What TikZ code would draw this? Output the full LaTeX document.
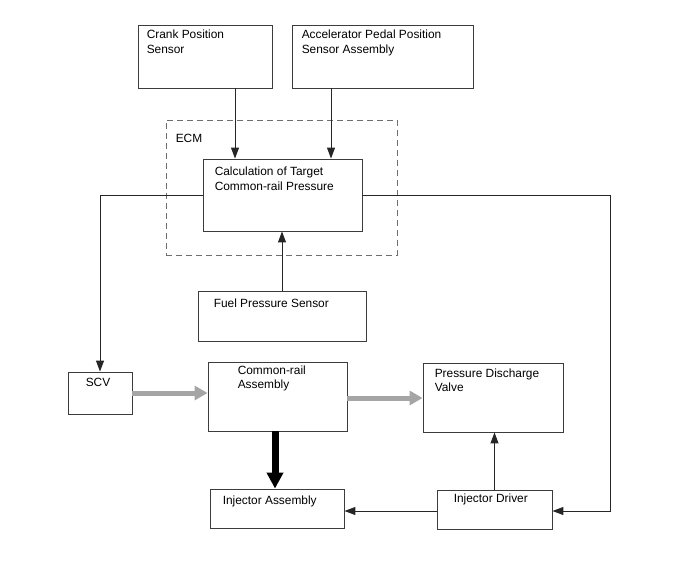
\documentclass[tikz,border=0pt]{standalone}
\usepackage{fontspec}
\setmainfont{Liberation Sans}
\usetikzlibrary{arrows.meta}
\definecolor{boxgray}{RGB}{60,60,60}
\definecolor{flowgray}{RGB}{165,165,165}
\definecolor{dashgray}{RGB}{110,110,110}

\begin{document}
\begin{tikzpicture}[x=1pt, y=-1pt,
  box/.style={draw=boxgray, line width=0.9pt, rectangle, inner sep=0pt},
  txt/.style={anchor=north west, align=left, inner sep=0pt, font=\fontsize{11.9}{14.5}\selectfont},
  sig/.style={draw=black!85, line width=1pt, -{Triangle[length=11pt,width=8pt]}},
  flow/.style={draw=flowgray, line width=5pt, -{Triangle[length=13pt,width=14pt]}},
  drive/.style={draw=black, line width=7pt, -{Triangle[length=16pt,width=16pt]}}]
  \useasboundingbox (0,0) rectangle (688,560);

  % sensors
  \node[box, minimum width=134pt, minimum height=63pt,
    label={[txt, xshift=9pt, yshift=-5.5pt]north west:{Crank Position\\Sensor}}] (crank) at (205,56.5) {};
  \node[box, minimum width=181pt, minimum height=63pt,
    label={[txt, xshift=10pt, yshift=-5.5pt]north west:{Accelerator Pedal Position\\Sensor Assembly}}] (accel) at (382.5,56.5) {};

  % ECM
  \node[draw=dashgray, line width=0.9pt, dash pattern=on 6pt off 4pt, rectangle, inner sep=0pt,
    minimum width=231pt, minimum height=135pt,
    label={[txt, xshift=10pt, yshift=-14pt]north west:{ECM}}] (ecm) at (281.5,187.5) {};
  \node[box, minimum width=159pt, minimum height=72pt,
    label={[txt, xshift=12pt, yshift=-8.5pt]north west:{Calculation of Target\\Common-rail Pressure}}] (calc) at (282.5,195) {};

  \node[box, minimum width=168pt, minimum height=50pt,
    label={[txt, xshift=16pt, yshift=-8pt]north west:{Fuel Pressure Sensor}}] (fuel) at (282,316) {};

  % actuators
  \node[box, minimum width=64pt, minimum height=42pt,
    label={[txt, xshift=18pt, yshift=-6pt]north west:{SCV}}] (scv) at (100,393) {};
  \node[box, minimum width=139pt, minimum height=69pt,
    label={[txt, xshift=30pt, yshift=-4pt]north west:{Common-rail\\Assembly}}] (rail) at (277.5,396.5) {};
  \node[box, minimum width=140pt, minimum height=69pt,
    label={[txt, xshift=12pt, yshift=-6pt]north west:{Pressure Discharge\\Valve}}] (pdv) at (493,397.5) {};
  \node[box, minimum width=134pt, minimum height=39pt,
    label={[txt, xshift=13pt, yshift=-7pt]north west:{Injector Assembly}}] (inja) at (277,508.5) {};
  \node[box, minimum width=115pt, minimum height=39pt,
    label={[txt, xshift=17pt, yshift=-4pt]north west:{Injector Driver}}] (drv) at (494.5,509.5) {};

  % signal lines
  \draw[sig] ([xshift=30pt]crank.south) -- ([xshift=30pt]crank.south |- calc.north);
  \draw[sig] ([xshift=-51.5pt]accel.south) -- ([xshift=-51.5pt]accel.south |- calc.north);
  \draw[sig] (fuel.north) -- (fuel.north |- calc.south);
  \draw[sig] (calc.west) -| (scv.north);
  \draw[sig] (calc.east) -- ++(248,0) |- ([yshift=-1.5pt]drv.east);
  \draw[sig] ([yshift=-1.5pt]drv.west) -- ([yshift=-1.5pt]drv.west -| inja.east);
  \draw[sig] (drv.north) -- (drv.north |- pdv.south);

  % fuel flow
  \draw[flow] (scv.east) -- (scv.east -| rail.west);
  \draw[flow] ([yshift=-1.5pt]rail.east) -- ([yshift=-1.5pt]rail.east -| pdv.west);
  \draw[drive] ([xshift=-2.5pt]rail.south) -- ([xshift=-2.5pt]rail.south |- inja.north);
\end{tikzpicture}
\end{document}
